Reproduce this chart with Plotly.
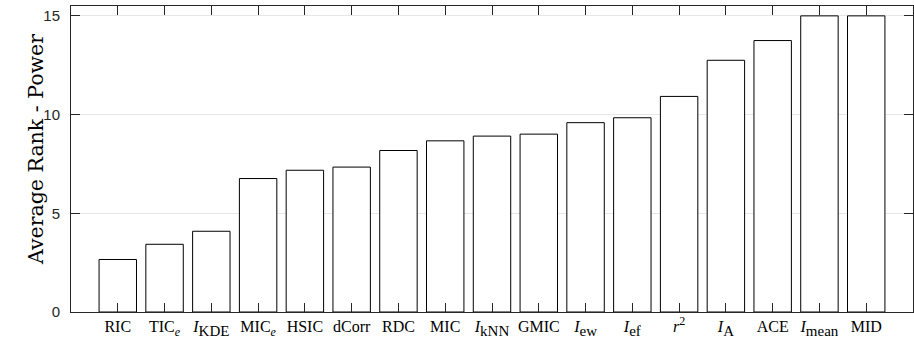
import plotly.graph_objects as go

def isub(s):
    return f"<i>I</i><sub><span style='font-size:15px'>{s}</span></sub>"

def esub(base):
    return f"{base}<sub><span style='font-size:12px'><i>e</i></span></sub>"

methods = ["RIC", esub("TIC"), isub("KDE"), esub("MIC"),
           "HSIC", "dCorr", "RDC", "MIC", isub("kNN"), "GMIC",
           isub("ew"), isub("ef"),
           "<i>r</i><sup><span style='font-size:12px'>2</span></sup>",
           isub("A"), "ACE", isub("mean"), "MID"]
avg_rank = [2.66, 3.43, 4.09, 6.76, 7.18, 7.34, 8.18, 8.67, 8.91, 9.01,
            9.59, 9.84, 10.92, 12.75, 13.75, 15.0, 15.0]
positions = list(range(1, len(methods) + 1))
y_title = "Average Rank - Power"

fig = go.Figure()
fig.add_trace(go.Bar(
    x=positions, y=avg_rank, width=0.8,
    marker=dict(color="white", line=dict(color="black", width=1)),
))

serif = "Liberation Serif, DejaVu Serif, serif"
fig.update_layout(
    width=914, height=340,
    margin=dict(l=71, r=1, t=6, b=28, autoexpand=False),
    plot_bgcolor="white", paper_bgcolor="white",
    showlegend=False,
    xaxis=dict(
        range=[0, 18], tickvals=positions, ticktext=methods,
        ticks="inside", ticklen=9, tickcolor="#262626",
        showline=True, linecolor="#262626", linewidth=1, mirror="ticks",
        showgrid=False, zeroline=False, automargin=False,
        tickfont=dict(family=serif, size=16, color="black"),
    ),
    yaxis=dict(
        range=[0, 15.5], tickvals=[0, 5, 10, 15],
        ticks="inside", ticklen=9, tickcolor="#262626",
        showline=True, linecolor="#262626", linewidth=1, mirror="ticks",
        showgrid=True, gridcolor="#e6e6e6", zeroline=False, automargin=False,
        ticklabelstandoff=7,
        tickfont=dict(family="Liberation Sans, Arial, sans-serif", size=15, color="#262626"),
    ),
    annotations=[dict(
        text=y_title, textangle=-90, showarrow=False,
        xref="paper", yref="paper", x=-35 / 842, y=(312 - 150) / 306,
        xanchor="center", yanchor="middle",
        font=dict(family="DejaVu Serif, serif", size=20.5, color="black"),
    )],
)

fig.write_html("out.html")
